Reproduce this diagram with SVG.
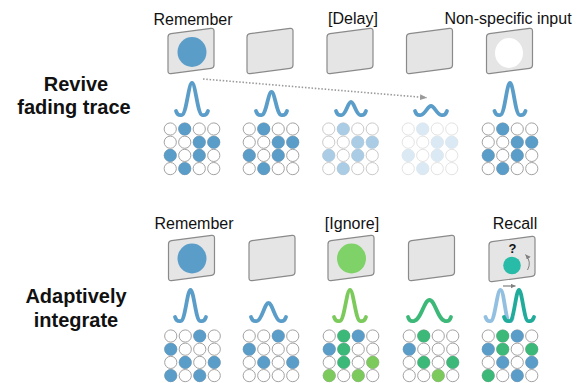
<svg xmlns="http://www.w3.org/2000/svg" xmlns:xlink="http://www.w3.org/1999/xlink" width="583" height="383" viewBox="0 0 583 383">
<style>
.lbl{font-family:"Liberation Sans",Arial,sans-serif;font-size:16px;fill:#111;text-anchor:middle}
.side{font-family:"Liberation Sans",Arial,sans-serif;font-size:20px;font-weight:bold;fill:#111;text-anchor:middle}
.panel{fill:#e5e5e5;stroke:#8a8a8a;stroke-width:1.2}
.bell{fill:none;stroke-width:3.8;stroke-linecap:round;stroke-linejoin:round}
.blue{stroke:#5b9dc9}
.e{fill:#fff;stroke:#a3a3a3;stroke-width:1}
.e2{fill:#fff;stroke:#cacaca;stroke-width:1}
.e3{fill:#fff;stroke:#e3e3e3;stroke-width:1}
.b{fill:#5b9dc9}
.b2{fill:#aacde5}
.b3{fill:#dae9f4}
.dg{fill:#3cb878}
.lg{fill:#7dca5c}
</style>
<defs>
<path id="panel" d="M-23,-14 Q-23,-17 -20,-17.4 L20,-22.6 Q23,-23 23,-20 L23,14 Q23,17 20,17.4 L-20,22.6 Q-23,23 -23,20 Z"/>
<g id="grid">
<circle cx="-21.75" cy="0" r="6.1"/><circle cx="-7.25" cy="0" r="6.1"/><circle cx="7.25" cy="0" r="6.1"/><circle cx="21.75" cy="0" r="6.1"/>
<circle cx="-21.75" cy="13.2" r="6.1"/><circle cx="-7.25" cy="13.2" r="6.1"/><circle cx="7.25" cy="13.2" r="6.1"/><circle cx="21.75" cy="13.2" r="6.1"/>
<circle cx="-21.75" cy="26.4" r="6.1"/><circle cx="-7.25" cy="26.4" r="6.1"/><circle cx="7.25" cy="26.4" r="6.1"/><circle cx="21.75" cy="26.4" r="6.1"/>
<circle cx="-21.75" cy="39.6" r="6.1"/><circle cx="-7.25" cy="39.6" r="6.1"/><circle cx="7.25" cy="39.6" r="6.1"/><circle cx="21.75" cy="39.6" r="6.1"/>
</g>
<g id="topfill">
<circle cx="-7.25" cy="0" r="6.3"/><circle cx="7.25" cy="13.2" r="6.3"/><circle cx="21.75" cy="13.2" r="6.3"/>
<circle cx="-21.75" cy="26.4" r="6.3"/><circle cx="7.25" cy="26.4" r="6.3"/><circle cx="-7.25" cy="39.6" r="6.3"/>
</g>
<marker id="arrowDot" markerWidth="8" markerHeight="8" refX="7" refY="3" orient="auto" markerUnits="userSpaceOnUse">
<path d="M0,0 L7,3 L0,6 Z" fill="#9a9a9a"/>
</marker>
<marker id="arrowSm" markerWidth="6" markerHeight="6" refX="5" refY="2.5" orient="auto" markerUnits="userSpaceOnUse">
<path d="M0,0 L5,2.5 L0,5 Z" fill="#808080"/>
</marker>
</defs>

<g id="labels">
<text class="side" x="76" y="91">Revive</text>
<text class="side" x="74" y="114">fading trace</text>
<text class="side" x="76" y="303">Adaptively</text>
<text class="side" x="76" y="327">integrate</text>
</g>

<!-- Top row -->
<g id="top-1">
<text class="lbl" x="193" y="25">Remember</text>
<use href="#panel" class="panel" x="191" y="51"/>
<ellipse cx="192" cy="52" rx="14.5" ry="15" fill="#5b9dc9"/>
<path class="bell blue" d="M176,111 Q177.5,116 182,115 C186.5,114 188.5,83 192,83 C195.5,83 197.5,114 202,115 Q206.5,116 208,111"/>
<g transform="translate(192,129)"><use href="#grid" class="e"/><use href="#topfill" class="b"/></g>
</g>
<g id="top-2">
<use href="#panel" class="panel" x="270" y="51"/>
<path class="bell blue" d="M256,111 Q257.5,116 262,115 C266.3,114 268.2,92 271.5,92 C274.8,92 276.7,114 281,115 Q285.5,116 287,111"/>
<g transform="translate(271,129)"><use href="#grid" class="e"/><use href="#topfill" class="b"/></g>
</g>
<g id="top-3">
<text class="lbl" x="353" y="24">[Delay]</text>
<use href="#panel" class="panel" x="350" y="51"/>
<path class="bell blue" d="M336,111 Q337.5,116 342,115 C346,114 348,102 351,102 C354,102 356,114 360,115 Q364.5,116 366,111"/>
<g transform="translate(350.5,129)"><use href="#grid" class="e2"/><use href="#topfill" class="b2"/></g>
</g>
<g id="top-4">
<use href="#panel" class="panel" x="429.5" y="51"/>
<path class="bell blue" d="M415,111 Q416.5,116 421,115 C425.5,114 427.5,106 431,106 C434.5,106 436.5,114 441,115 Q445.5,116 447,111"/>
<g transform="translate(430,129)"><use href="#grid" class="e3"/><use href="#topfill" class="b3"/></g>
</g>
<g id="top-5">
<text class="lbl" x="508" y="24">Non-specific input</text>
<use href="#panel" class="panel" x="509.5" y="51"/>
<ellipse cx="509" cy="53" rx="14" ry="15" fill="#fff"/>
<path class="bell blue" d="M494.5,111 Q496,116 500.5,115 C504.8,114 506.7,83 510,83 C513.3,83 515.2,114 519.5,115 Q524,116 525.5,111"/>
<g transform="translate(510,129)"><use href="#grid" class="e"/><use href="#topfill" class="b"/></g>
</g>

<!-- Bottom row -->
<g id="bot-1">
<text class="lbl" x="194" y="229">Remember</text>
<use href="#panel" class="panel" x="191.5" y="258"/>
<ellipse cx="192" cy="258.5" rx="14.5" ry="15" fill="#5b9dc9"/>
<path class="bell blue" d="M175,317 Q176.5,322 181,321 C185.3,320 187.2,290 190.5,290 C193.8,290 195.7,320 200,321 Q204.5,322 206,317"/>
<g transform="translate(192.5,336)"><use href="#grid" class="e"/>
<circle class="b" cx="7.25" cy="0" r="6.3"/><circle class="b" cx="-21.75" cy="13.2" r="6.3"/><circle class="b" cx="-7.25" cy="26.4" r="6.3"/><circle class="b" cx="21.75" cy="26.4" r="6.3"/><circle class="b" cx="-21.75" cy="39.6" r="6.3"/><circle class="b" cx="7.25" cy="39.6" r="6.3"/>
</g>
</g>
<g id="bot-2">
<use href="#panel" class="panel" x="272" y="258"/>
<path class="bell blue" d="M251,317 Q252.5,322 257,321 C262.2,320 264.5,303 268.5,303 C272.5,303 274.8,320 280,321 Q284.5,322 286,317"/>
<g transform="translate(271,336)"><use href="#grid" class="e"/>
<circle class="b" cx="7.25" cy="0" r="6.3"/><circle class="b" cx="-21.75" cy="13.2" r="6.3"/><circle class="b" cx="-7.25" cy="26.4" r="6.3"/><circle class="b" cx="21.75" cy="26.4" r="6.3"/>
</g>
</g>
<g id="bot-3">
<text class="lbl" x="352" y="229">[Ignore]</text>
<use href="#panel" class="panel" x="351" y="258"/>
<ellipse cx="351.5" cy="258.5" rx="14.5" ry="15" fill="#7ed267"/>
<path class="bell" stroke="#7cca5c" d="M334,317 Q335.5,322 340,321 C344.5,320 346.5,290 350,290 C353.5,290 355.5,320 360,321 Q364.5,322 366,317"/>
<g transform="translate(351,336)"><use href="#grid" class="e"/>
<circle class="dg" cx="-7.25" cy="0" r="6.3"/><circle class="b" cx="7.25" cy="0" r="6.3"/>
<circle class="b" cx="-21.75" cy="13.2" r="6.3"/><circle class="dg" cx="-7.25" cy="13.2" r="6.3"/>
<circle class="dg" cx="-7.25" cy="26.4" r="6.3"/><circle class="lg" cx="21.75" cy="26.4" r="6.3"/>
<circle class="lg" cx="-21.75" cy="39.6" r="6.3"/><circle class="lg" cx="7.25" cy="39.6" r="6.3"/>
</g>
</g>
<g id="bot-4">
<use href="#panel" class="panel" x="431.5" y="258"/>
<path class="bell" stroke="#3cb878" d="M408,317 Q409.5,322 414,321 C421,320 424.1,300 429.5,300 C434.9,300 438,320 445,321 Q449.5,322 451,317"/>
<g transform="translate(431,336)"><use href="#grid" class="e"/>
<circle class="dg" cx="-7.25" cy="0" r="6.3"/>
<circle class="b" cx="-21.75" cy="13.2" r="6.3"/>
<circle class="dg" cx="-7.25" cy="26.4" r="6.3"/><circle class="dg" cx="21.75" cy="26.4" r="6.3"/>
<circle class="lg" cx="7.25" cy="39.6" r="6.3"/>
</g>
</g>
<g id="bot-5">
<text class="lbl" x="515" y="229">Recall</text>
<use href="#panel" class="panel" x="512" y="259"/>
<text x="512.5" y="253" font-family="Liberation Sans, Arial, sans-serif" font-size="13" font-weight="bold" text-anchor="middle" fill="#111">?</text>
<ellipse cx="512" cy="265.5" rx="8.8" ry="8.8" fill="#28bca8"/>
<path d="M527.5,270 Q532,262 525.5,254.5" fill="none" stroke="#808080" stroke-width="1" marker-end="url(#arrowSm)"/>
<path class="bell" stroke="#93c0e0" stroke-width="3" d="M485.5,317 Q487,322 491,321 C495,320 497,290 500.5,290 C504,290 505.5,320 509,321 Q511.5,322 512.5,318"/>
<path class="bell" stroke="#21ab9b" d="M504,317 Q505.5,322 510,321 C514,320 516,290 519,290 C522,290 524,320 528,321 Q532.5,322 534,317"/>
<path d="M503,286 L515.5,286" stroke="#808080" stroke-width="1.2" marker-end="url(#arrowSm)"/>
<g transform="translate(510,336)"><use href="#grid" class="e"/>
<circle class="dg" cx="-7.25" cy="0" r="6.3"/><circle class="b" cx="7.25" cy="0" r="6.3"/>
<circle class="b" cx="-21.75" cy="13.2" r="6.3"/><circle class="dg" cx="-7.25" cy="13.2" r="6.3"/><circle class="dg" cx="21.75" cy="13.2" r="6.3"/>
<circle class="b" cx="-7.25" cy="26.4" r="6.3"/><circle class="b" cx="21.75" cy="26.4" r="6.3"/>
<circle class="dg" cx="-21.75" cy="39.6" r="6.3"/><circle class="b" cx="7.25" cy="39.6" r="6.3"/>
</g>
</g>

<g id="connectors">
<path d="M203,79 L427,97.7" fill="none" stroke="#9a9a9a" stroke-width="1.6" stroke-dasharray="1.5 1.8" marker-end="url(#arrowDot)"/>
</g>
</svg>
